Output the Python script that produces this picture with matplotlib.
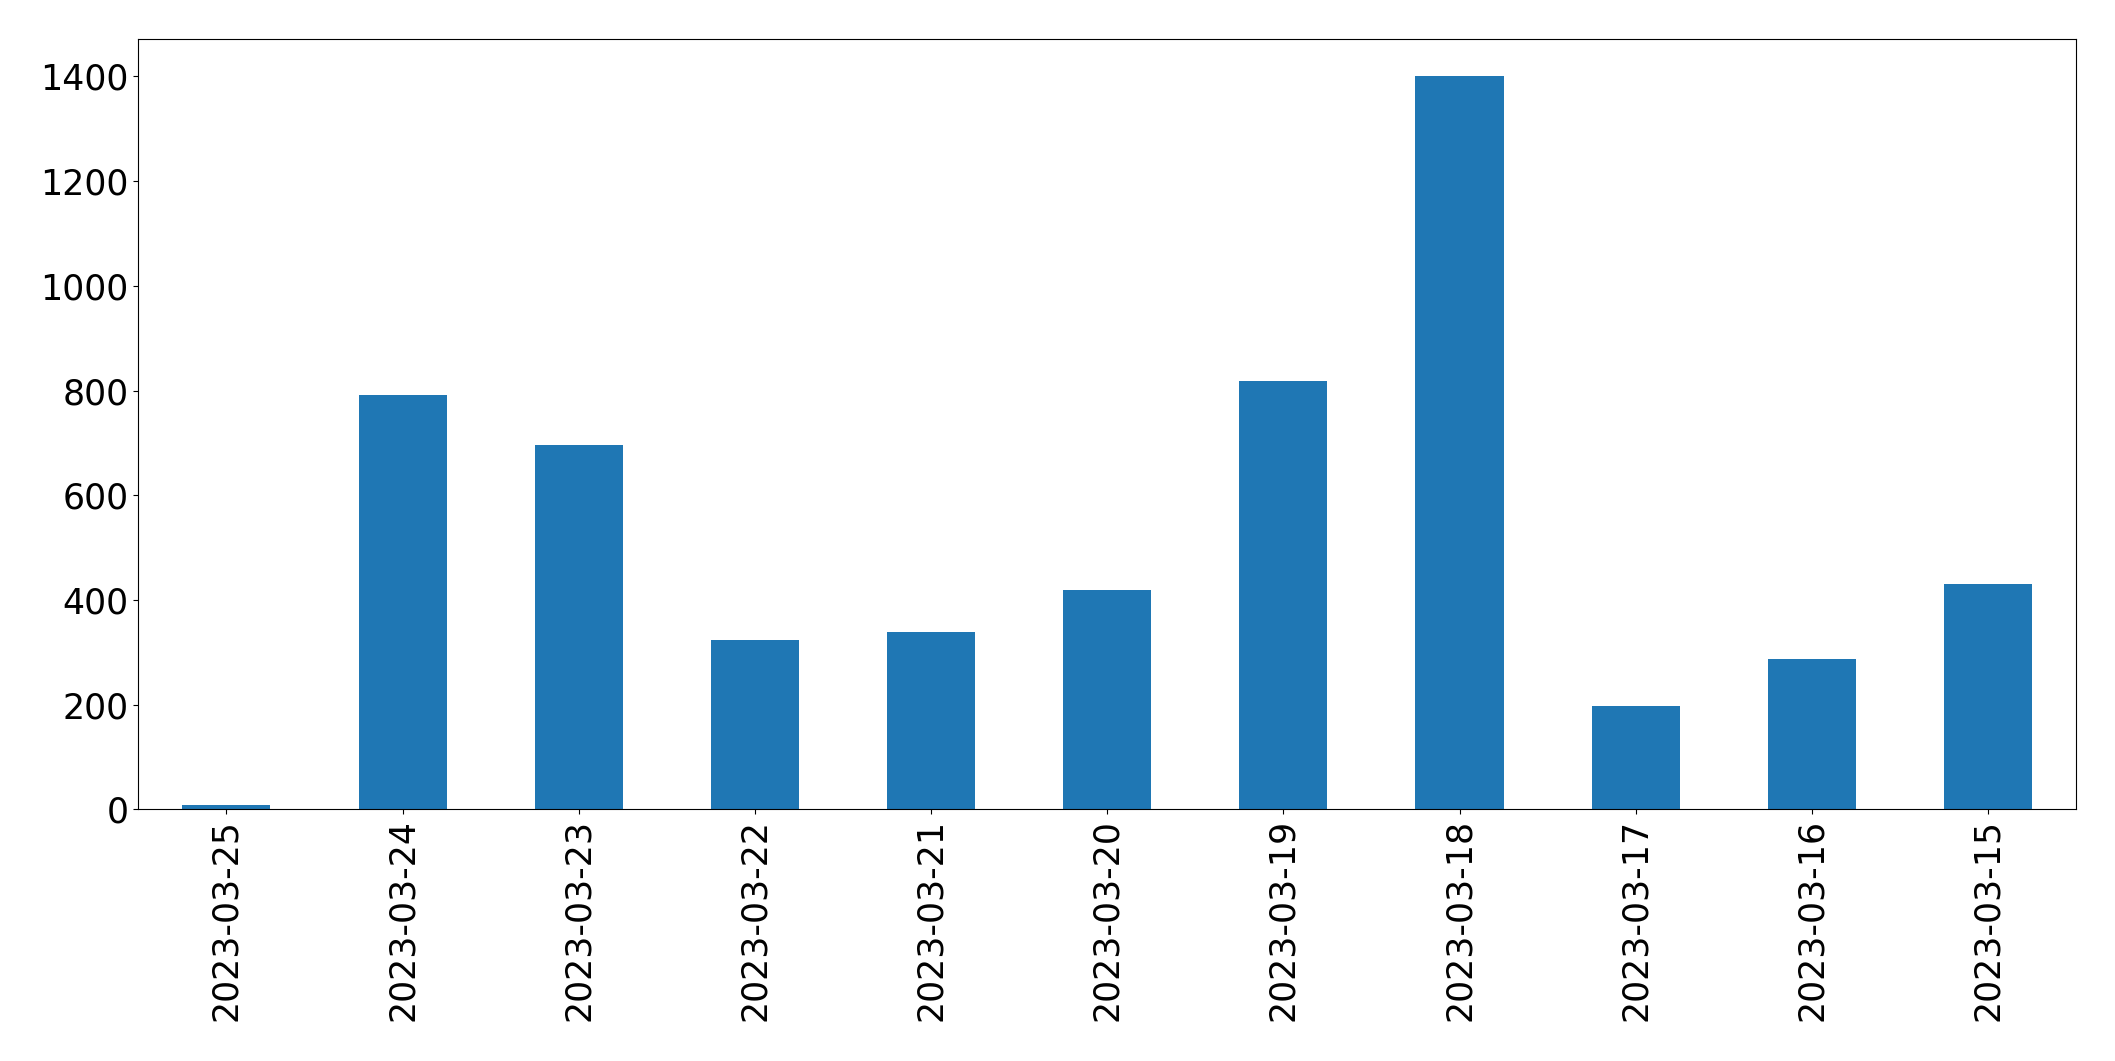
import pandas as pd
import matplotlib as mpl
mpl.use("Agg")
import matplotlib.pyplot as plt

dates = ["2023-03-25", "2023-03-24", "2023-03-23", "2023-03-22", "2023-03-21", "2023-03-20",
         "2023-03-19", "2023-03-18", "2023-03-17", "2023-03-16", "2023-03-15"]
counts = [8, 792, 696, 323, 339, 419, 818, 1401, 197, 287, 431]

s = pd.Series(counts, index=dates)

fig = plt.figure(figsize=(21.15, 10.61), dpi=100)
ax = fig.add_axes([0.0654, 0.2372, 0.9162, 0.7258])
s.plot.bar(ax=ax, color="#1f77b4")
ax.tick_params(axis="both", labelsize=25)
plt.savefig("out.png", dpi=100)
